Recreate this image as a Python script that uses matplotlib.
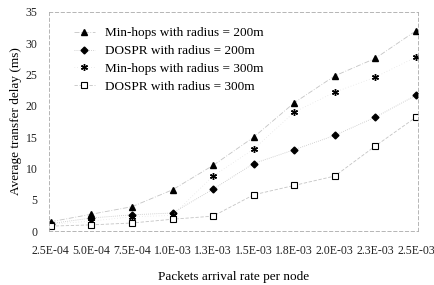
import matplotlib
matplotlib.use("Agg")
import matplotlib.pyplot as plt

categories = ["2.5E-04", "5.0E-04", "7.5E-04", "1.0E-03", "1.3E-03",
              "1.5E-03", "1.8E-03", "2.0E-03", "2.3E-03", "2.5E-03"]
minhops_200 = [1.5, 2.7, 3.9, 6.6, 10.5, 15.0, 20.5, 24.8, 27.6, 32.0]
dospr_200 = [1.2, 2.1, 2.6, 2.9, 6.7, 10.8, 13.0, 15.3, 18.2, 21.7]
minhops_300 = [1.1, 1.6, 2.3, 2.5, 8.8, 13.1, 19.0, 22.2, 24.6, 27.8]
dospr_300 = [0.8, 1.0, 1.3, 1.9, 2.4, 5.8, 7.3, 8.8, 13.6, 18.2]
y_ticks = [0, 5, 10, 15, 20, 25, 30, 35]

plt.rcParams['font.family'] = ['Liberation Serif', 'DejaVu Serif']

fig = plt.figure(figsize=(4.35, 2.85), dpi=100)
ax = fig.add_axes([0.112, 0.189, 0.849, 0.769])
x = list(range(len(categories)))

lc = '#c4c4c4'
ax.plot(x, minhops_200, linestyle=(0, (6, 2, 1, 2)), color=lc, lw=0.6,
        marker='^', ms=4.5, mfc='black', mec='black', label='Min-hops with radius = 200m')
ax.plot(x, dospr_200, linestyle=(0, (1, 1.5)), color=lc, lw=0.6,
        marker='D', ms=3.5, mfc='black', mec='black', label='DOSPR with radius = 200m')
ax.plot(x, minhops_300, linestyle=(0, (1, 3)), color='#dddddd', lw=0.5,
        marker=(6, 2, 0), ms=5, mfc='black', mec='black', mew=1.0, label='Min-hops with radius = 300m')
ax.plot(x, dospr_300, linestyle=(0, (4, 2)), color=lc, lw=0.6,
        marker='s', ms=4, mfc='white', mec='black', mew=0.8, label='DOSPR with radius = 300m')

ax.set_xlim(-0.05, 9.05)
ax.set_ylim(0, 35)
ax.set_yticks(y_ticks)
ax.set_xticks(x)
ax.set_xticklabels(categories)
ax.tick_params(axis='both', length=0, labelsize=8.5, colors='#222222')
ax.tick_params(axis='x', pad=10)
ax.tick_params(axis='y', pad=8)
for s in ax.spines.values():
    s.set_linestyle((0, (4, 3)))
    s.set_color('#aaaaaa')
    s.set_linewidth(0.6)

ax.set_xlabel('Packets arrival rate per node', fontsize=9.5, labelpad=10)
ax.set_ylabel('Average transfer delay (ms)', fontsize=9.5, labelpad=3)

leg = ax.legend(loc='upper left', bbox_to_anchor=(0.035, 0.985), frameon=False,
                fontsize=9.5, handlelength=1.6, handletextpad=0.8, labelspacing=0.42)

fig.savefig('out.png', dpi=100)
